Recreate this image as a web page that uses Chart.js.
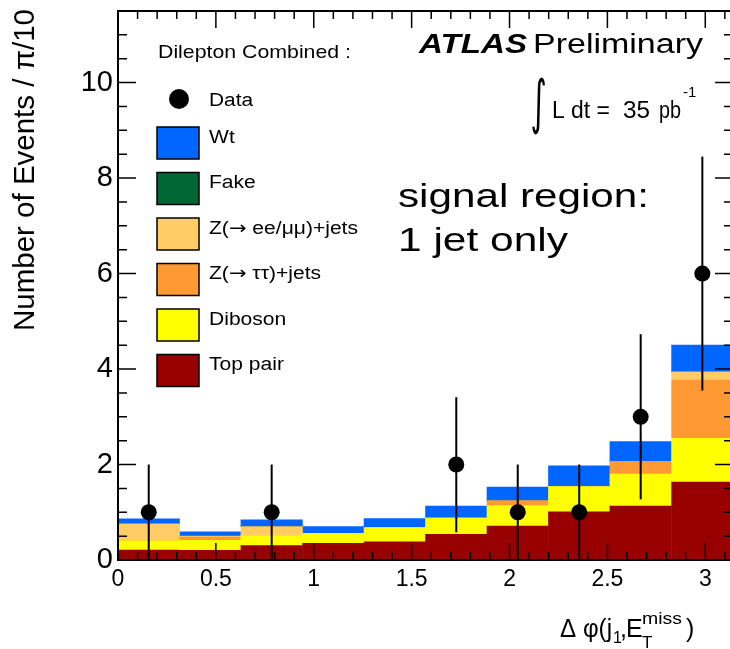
<!DOCTYPE html>
<html>
<head>
<meta charset="utf-8">
<script src="https://cdn.jsdelivr.net/npm/chart.js@4.4.1/dist/chart.umd.min.js"></script>
<style>
    html, body { margin: 0; padding: 0; background: #fff; overflow: hidden; width: 730px; height: 649px; }
    canvas { display: block; }
</style>
</head>
<body>
<canvas id="dphiChart" width="733" height="649"></canvas>
<script>
const FONT = '"Liberation Sans", Arial, Helvetica, sans-serif'

// bin centres of delta phi (bin width pi/10)
const binCenters = [0.157, 0.471, 0.785, 1.100, 1.414, 1.728, 2.042, 2.356, 2.670, 2.985]

// stacked backgrounds, bottom to top
const topPair = [0.21, 0.20, 0.30, 0.35, 0.38, 0.54, 0.71, 1.01, 1.13, 1.63]
const diboson = [0.19, 0.21, 0.21, 0.21, 0.30, 0.34, 0.43, 0.53, 0.67, 0.92]
const zTauTau = [0.00, 0.07, 0.00, 0.00, 0.00, 0.00, 0.10, 0.00, 0.26, 1.22]
const zEeMuMu = [0.36, 0.02, 0.19, 0.00, 0.00, 0.00, 0.00, 0.00, 0.00, 0.17]
const fake = [0, 0, 0, 0, 0, 0, 0, 0, 0, 0]
const wt = [0.10, 0.09, 0.14, 0.14, 0.19, 0.25, 0.29, 0.43, 0.42, 0.56]

// data points and error bar ends
const dataY = [1, null, 1, null, null, 2, 1, 1, 3, 6]
const dataLow = [0, null, 0, null, null, 0.58, 0, 0, 1.27, 3.55]
const dataHigh = [2, null, 2, null, null, 3.41, 2, 2, 4.73, 8.45]

const xTicks = [0, 0.5, 1, 1.5, 2, 2.5, 3]
const yTicks = [0, 2, 4, 6, 8, 10]

const toPoints = arr => binCenters.map((x, i) => ({ x: x, y: arr[i] }))

const bars = [
    { label: "Top pair", data: topPair, color: "#990000" },
    { label: "Diboson", data: diboson, color: "#ffff00" },
    { label: "Z(\u2192 \u03c4\u03c4)+jets", data: zTauTau, color: "#ff9933" },
    { label: "Z(\u2192 ee/\u03bc\u03bc)+jets", data: zEeMuMu, color: "#ffcc66" },
    { label: "Fake", data: fake, color: "#006633" },
    { label: "Wt", data: wt, color: "#0066ff" }
]

function drawText(ctx, str, x, y, size, width, style = "") {
    ctx.font = `${style} ${size}px ${FONT}`
    let w = ctx.measureText(str).width
    ctx.save()
    ctx.translate(x, y)
    if (width) ctx.scale(width / w, 1)
    ctx.fillText(str, 0, 0)
    ctx.restore()
}

// legend label, the arrow comes from DejaVu (Liberation's one is tiny)
function drawLabel(ctx, str, x, y, size, sx) {
    let parts = str.split("\u2192")
    ctx.save()
    ctx.translate(x, y)
    ctx.scale(sx, 1)
    let cx = 0
    parts.forEach((p, i) => {
        if (i > 0) {
            ctx.font = `${size}px "DejaVu Sans"`
            ctx.fillText("\u2192", cx, 0)
            cx += ctx.measureText("\u2192").width
        }
        ctx.font = `${size}px ${FONT}`
        ctx.fillText(p, cx, 0)
        cx += ctx.measureText(p).width
    })
    ctx.restore()
}

const errorBars = {
    id: "errorBars",
    afterDatasetsDraw(chart) {
        const { ctx, scales: { x, y } } = chart
        ctx.save()
        ctx.strokeStyle = "#000"
        ctx.lineWidth = 2
        binCenters.forEach((c, i) => {
            if (dataY[i] == null) return
            let px = x.getPixelForValue(c)
            ctx.beginPath()
            ctx.moveTo(px, y.getPixelForValue(dataLow[i]))
            ctx.lineTo(px, y.getPixelForValue(dataHigh[i]))
            ctx.stroke()
        })
        ctx.restore()
    }
}

const frame = {
    id: "frame",
    afterDraw(chart) {
        const { ctx, chartArea: a, scales: { x, y } } = chart
        ctx.save()
        ctx.strokeStyle = "#000"
        ctx.lineWidth = 1.5
        // x ticks (bottom + top), minor every 0.1
        for (let k = 0; k <= 31; k++) {
            let px = x.getPixelForValue(k / 10)
            let len = k % 5 === 0 ? 17 : 8
            ctx.beginPath()
            ctx.moveTo(px, a.bottom); ctx.lineTo(px, a.bottom - len)
            ctx.moveTo(px, a.top); ctx.lineTo(px, a.top + len)
            ctx.stroke()
        }
        // y ticks (left + right), minor every 0.5
        for (let k = 0; k <= 23; k++) {
            let py = y.getPixelForValue(k / 2)
            let len = k % 4 === 0 ? 18 : 9
            ctx.beginPath()
            ctx.moveTo(a.left, py); ctx.lineTo(a.left + len, py)
            ctx.moveTo(a.right, py); ctx.lineTo(a.right - len, py)
            ctx.stroke()
        }
        ctx.lineWidth = 2
        ctx.strokeRect(a.left, a.top, a.right - a.left, a.bottom - a.top)

        ctx.fillStyle = "#000"
        ctx.textAlign = "left"
        ctx.textBaseline = "alphabetic"

        // y title
        ctx.save()
        ctx.translate(34, 331)
        ctx.rotate(-Math.PI / 2)
        drawText(ctx, "Number of Events / \u03c0/10", 0, 0, 30, 322)
        ctx.restore()

        // x title
        drawText(ctx, "\u0394 \u03c6(j", 560, 637, 25, 52)
        drawText(ctx, "1", 613, 643, 16)
        drawText(ctx, ",", 620, 637, 25)
        drawText(ctx, "E", 626, 637, 25)
        drawText(ctx, "miss", 642, 624, 17, 40)
        drawText(ctx, "T", 642, 648, 17)
        drawText(ctx, ")", 686, 637, 25)

        // legend
        drawText(ctx, "Dilepton Combined :", 158, 58, 19, 193)
        ctx.beginPath()
        ctx.arc(179, 99, 10, 0, Math.PI * 2)
        ctx.fill()
        drawText(ctx, "Data", 209, 106, 18, 44)
        let order = [5, 4, 3, 2, 1, 0]
        order.forEach((idx, row) => {
            let top = 127 + row * 45.5
            ctx.fillStyle = bars[idx].color
            ctx.fillRect(157, top, 42, 32)
            ctx.lineWidth = 1.5
            ctx.strokeRect(157, top, 42, 32)
            ctx.fillStyle = "#000"
            drawLabel(ctx, bars[idx].label, 209, top + 15.5, 18, 1.17)
        })

        // labels
        drawText(ctx, "ATLAS", 419, 53, 27, 108, "italic bold")
        drawText(ctx, "Preliminary", 533, 53, 27, 170)

        ctx.save()
        ctx.font = `60px "DejaVu Sans"`
        let m = ctx.measureText("\u222b")
        let bw = m.actualBoundingBoxLeft + m.actualBoundingBoxRight
        let bh = m.actualBoundingBoxAscent + m.actualBoundingBoxDescent
        ctx.translate(532, 77)
        ctx.scale(13 / bw, 58 / bh)
        ctx.fillText("\u222b", m.actualBoundingBoxLeft, m.actualBoundingBoxAscent)
        ctx.restore()

        drawText(ctx, "L dt =", 552, 118, 23, 58)
        drawText(ctx, "35", 623, 118, 23, 27)
        drawText(ctx, "pb", 659, 118, 23, 22)
        drawText(ctx, "-1", 683, 97, 15)

        drawText(ctx, "signal region:", 398, 207, 34, 251)
        drawText(ctx, "1 jet only", 398, 251, 34, 170)
        ctx.restore()
    }
}

const ctx = document.getElementById("dphiChart").getContext("2d")

new Chart(ctx, {
    type: "bar",
    data: {
        datasets: [
            {
                type: "scatter",
                label: "Data",
                data: toPoints(dataY),
                pointRadius: 8,
                pointHoverRadius: 8,
                backgroundColor: "#000",
                borderWidth: 0,
                order: -1
            },
            ...bars.map(b => ({
                label: b.label,
                data: toPoints(b.data),
                backgroundColor: b.color,
                borderWidth: 0,
                barPercentage: 1,
                categoryPercentage: 1
            }))
        ]
    },
    options: {
        responsive: false,
        animation: false,
        layout: { autoPadding: false, padding: { top: 11, right: 0, left: 0, bottom: 0 } },
        plugins: {
            legend: { display: false },
            tooltip: { enabled: false }
        },
        scales: {
            x: {
                type: "linear",
                min: 0,
                max: Math.PI,
                stacked: true,
                offset: false,
                grid: { display: false, drawTicks: false, offset: false },
                border: { display: false },
                afterBuildTicks: s => { s.ticks = xTicks.map(v => ({ value: v })) },
                ticks: {
                    color: "#000",
                    font: { family: FONT, size: 23 },
                    padding: 6,
                    maxRotation: 0,
                    autoSkip: false,
                    callback: v => String(v)
                },
                afterFit: s => { s.height = 89; s.paddingLeft = 0; s.paddingRight = 0 }
            },
            y: {
                min: 0,
                max: 11.5,
                stacked: true,
                grid: { display: false, drawTicks: false },
                border: { display: false },
                afterBuildTicks: s => { s.ticks = yTicks.map(v => ({ value: v })) },
                ticks: {
                    color: "#000",
                    font: { family: FONT, size: 29 },
                    padding: 5,
                    callback: v => String(v)
                },
                afterFit: s => { s.width = 118; s.paddingTop = 0; s.paddingBottom = 0 }
            }
        }
    },
    plugins: [errorBars, frame]
})
</script>
</body>
</html>
